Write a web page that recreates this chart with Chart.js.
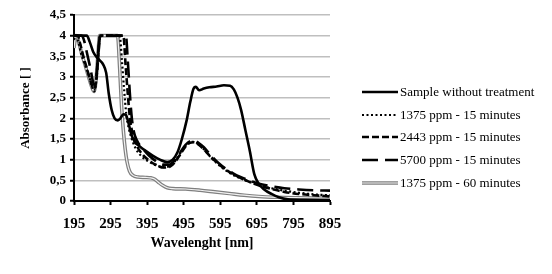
<!DOCTYPE html>
<html>
<head>
<meta charset="utf-8">
<script src="https://cdn.jsdelivr.net/npm/chart.js@4/dist/chart.umd.min.js"></script>
<style>
  html, body { margin: 0; padding: 0; background: #fff; }
  #wrap { width: 552px; height: 274px; }
</style>
</head>
<body>
<div id="wrap"><canvas id="chart" width="552" height="274"></canvas></div>
<script>
// axis ticks
var xTicks = [195, 295, 395, 495, 595, 695, 795, 895];
var yTicks = [0, 0.5, 1, 1.5, 2, 2.5, 3, 3.5, 4, 4.5];

// Sample without treatment
var wlRaw = [195, 230, 238, 248, 260, 275, 283, 290, 298, 306, 315, 322, 330, 337, 345, 352, 362, 375, 390, 410, 430, 450, 465, 478, 490, 503, 513, 522, 528, 537, 550, 565, 585, 605, 622, 632, 642, 652, 664, 676, 688, 700, 715, 735, 755, 780, 820, 895];
var absRaw = [4, 4, 3.85, 3.6, 3.45, 3.3, 3.1, 2.6, 2.2, 2.0, 1.95, 2.0, 2.1, 2.08, 1.85, 1.6, 1.42, 1.32, 1.22, 1.1, 1.0, 0.94, 1.0, 1.18, 1.5, 1.95, 2.4, 2.72, 2.76, 2.68, 2.72, 2.75, 2.77, 2.8, 2.79, 2.7, 2.5, 2.2, 1.7, 1.2, 0.65, 0.42, 0.28, 0.17, 0.09, 0.04, 0.03, 0.02];

// 1375 ppm - 15 minutes
var wl1375a = [195, 200, 207, 215, 225, 235, 243, 250, 256, 261, 266, 320, 326, 332, 338, 345, 355, 365, 380, 400, 420, 440, 455, 470, 485, 500, 512, 522, 535, 550, 570, 590, 610, 630, 650, 670, 690, 710, 740, 770, 810, 850, 895];
var abs1375a = [3.9, 4, 3.85, 3.55, 3.3, 3.05, 2.8, 2.65, 2.9, 3.5, 4, 4, 3.4, 2.7, 2.1, 1.75, 1.45, 1.25, 1.08, 0.95, 0.86, 0.82, 0.84, 0.95, 1.15, 1.33, 1.42, 1.43, 1.38, 1.25, 1.05, 0.88, 0.74, 0.63, 0.55, 0.48, 0.42, 0.36, 0.3, 0.25, 0.2, 0.16, 0.14];

// 2443 ppm - 15 minutes
var wl2443 = [195, 205, 212, 222, 232, 242, 250, 256, 262, 267, 330, 336, 342, 348, 356, 366, 380, 400, 420, 440, 455, 470, 485, 500, 512, 522, 535, 550, 570, 590, 610, 630, 650, 670, 690, 710, 740, 770, 810, 850, 895];
var abs2443 = [4, 4, 3.8, 3.45, 3.15, 2.85, 2.7, 2.95, 3.6, 4, 4, 3.3, 2.6, 2.0, 1.6, 1.35, 1.15, 0.98, 0.87, 0.81, 0.82, 0.93, 1.12, 1.32, 1.41, 1.42, 1.37, 1.25, 1.06, 0.9, 0.76, 0.65, 0.56, 0.48, 0.41, 0.35, 0.28, 0.22, 0.17, 0.14, 0.11];

// 5700 ppm - 15 minutes
var wl5700 = [195, 215, 222, 230, 240, 248, 253, 258, 263, 268, 337, 342, 347, 352, 358, 368, 382, 400, 420, 440, 455, 470, 485, 500, 513, 523, 535, 550, 570, 590, 610, 630, 650, 670, 690, 710, 740, 770, 810, 850, 895];
var abs5700 = [4, 4, 3.9, 3.6, 3.2, 2.85, 2.8, 3.2, 3.8, 4, 4, 3.4, 2.7, 2.1, 1.7, 1.45, 1.28, 1.1, 0.96, 0.88, 0.88, 0.98, 1.17, 1.36, 1.45, 1.46, 1.41, 1.3, 1.1, 0.92, 0.78, 0.67, 0.58, 0.51, 0.45, 0.4, 0.35, 0.31, 0.28, 0.26, 0.25];

// 1375 ppm - 60 minutes
var wl1375b = [195, 200, 206, 215, 225, 235, 244, 250, 256, 261, 265, 314, 320, 325, 330, 335, 340, 347, 356, 370, 390, 405, 415, 425, 437, 450, 465, 500, 540, 580, 620, 660, 700, 750, 800, 895];
var abs1375b = [3.7, 4, 3.9, 3.6, 3.3, 3.0, 2.75, 2.65, 3.0, 3.6, 4, 4, 3.2, 2.3, 1.7, 1.25, 0.95, 0.72, 0.62, 0.58, 0.57, 0.56, 0.53, 0.46, 0.38, 0.32, 0.3, 0.29, 0.26, 0.22, 0.18, 0.14, 0.11, 0.09, 0.08, 0.07];

function pts(xs, ys) {
  return xs.map(function (x, i) { return { x: x, y: ys[i] }; });
}

var serif = "'Liberation Serif', 'Times New Roman', serif";

function line(label, xs, ys, color, width, dash, legend) {
  return {
    label: label,
    data: pts(xs, ys),
    borderColor: color,
    borderWidth: width,
    borderDash: dash,
    pointRadius: 0,
    fill: false,
    cubicInterpolationMode: 'monotone',
    inLegend: legend
  };
}

// legend drawn by hand at the right side
var sideLegend = {
  id: 'sideLegend',
  afterDraw: function (chart) {
    var ctx = chart.ctx;
    var rows = [92, 115, 137, 160, 183];
    var n = 0;
    ctx.save();
    ctx.font = '13px ' + serif;
    ctx.textBaseline = 'middle';
    ctx.fillStyle = '#000';
    chart.data.datasets.forEach(function (ds) {
      if (!ds.inLegend) return;
      var y = rows[n++];
      ctx.lineWidth = ds.borderWidth;
      ctx.strokeStyle = ds.borderColor;
      ctx.setLineDash(ds.borderDash || []);
      ctx.beginPath();
      ctx.moveTo(362, y);
      ctx.lineTo(398, y);
      ctx.stroke();
      if (ds.inner) {
        ctx.lineWidth = 1.2;
        ctx.strokeStyle = '#f2f2f2';
        ctx.beginPath();
        ctx.moveTo(362, y);
        ctx.lineTo(398, y);
        ctx.stroke();
      }
      ctx.setLineDash([]);
      ctx.fillText(ds.label, 400, y + 1);
    });
    ctx.restore();
  }
};

var gray = line('1375 ppm - 60 minutes', wl1375b, abs1375b, '#7f7f7f', 3.6, [], true);
gray.inner = true;
var grayInner = line('', wl1375b, abs1375b, '#f2f2f2', 1.2, [], false);

var ctx = document.getElementById('chart').getContext('2d');
var chart = new Chart(ctx, {
  type: 'line',
  data: {
    datasets: [
      line('Sample without treatment', wlRaw, absRaw, '#000', 2.6, [], true),
      line('1375 ppm - 15 minutes', wl1375a, abs1375a, '#000', 2.2, [2, 2.5], true),
      line('2443 ppm - 15 minutes', wl2443, abs2443, '#000', 2.6, [7, 3], true),
      line('5700 ppm - 15 minutes', wl5700, abs5700, '#000', 2.6, [16, 7], true),
      grayInner,
      gray
    ]
  },
  options: {
    responsive: false,
    animation: false,
    layout: { padding: { left: 0, top: 15, right: 222, bottom: 0 } },
    plugins: {
      legend: { display: false },
      tooltip: { enabled: false }
    },
    scales: {
      x: {
        type: 'linear',
        min: 195,
        max: 895,
        afterBuildTicks: function (s) { s.ticks = xTicks.map(function (v) { return { value: v }; }); },
        afterFit: function (s) { s.height = 73; },
        border: { color: '#000', width: 2 },
        grid: { drawOnChartArea: false, drawTicks: true, tickLength: 4, tickColor: '#000', tickWidth: 2 },
        ticks: {
          color: '#000',
          padding: 10,
          maxRotation: 0,
          font: { family: serif, size: 15, weight: 'bold' }
        },
        title: {
          display: true,
          text: 'Wavelenght [nm]',
          color: '#000',
          font: { family: serif, size: 14, weight: 'bold' },
          padding: { top: 0, bottom: 22 }
        }
      },
      y: {
        min: 0,
        max: 4.5,
        afterBuildTicks: function (s) { s.ticks = yTicks.map(function (v) { return { value: v }; }); },
        afterFit: function (s) { s.width = 74; },
        border: { color: '#000', width: 2 },
        grid: { color: '#bfbfbf', lineWidth: 1.5, drawTicks: true, tickLength: 4, tickColor: '#000', tickWidth: 2 },
        ticks: {
          color: '#000',
          padding: 4,
          font: { family: serif, size: 13, weight: 'bold' },
          callback: function (v) { return String(v).replace('.', ','); }
        },
        title: {
          display: true,
          text: 'Absorbance [ ]',
          color: '#000',
          font: { family: serif, size: 13, weight: 'bold' },
          padding: { top: 18, bottom: 0 }
        }
      }
    }
  },
  plugins: [sideLegend]
});
</script>
</body>
</html>
